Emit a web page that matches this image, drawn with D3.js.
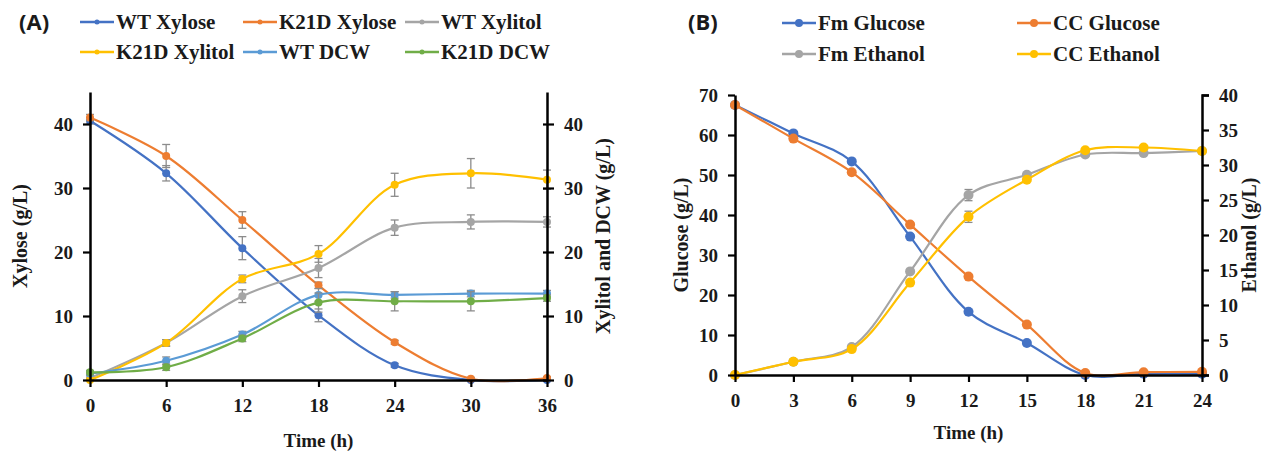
<!DOCTYPE html>
<html>
<head>
<meta charset="utf-8">
<script src="https://cdn.jsdelivr.net/npm/d3@7"></script>
<style>
  body { margin: 0; background: #fff; }
  svg text { font-family: "Liberation Serif", "Times New Roman", serif; font-weight: bold; fill: #1a1a1a; }
  .tag { font-family: "Open Sans", "Liberation Sans", sans-serif; }
</style>
</head>
<body>
<svg id="chart" width="1263" height="452"></svg>
<script>
// ---------- panel A data ----------
var timeA = [0, 6, 12, 18, 24, 30, 36];
var wtXylose = [40.5, 32.3, 20.6, 10.1, 2.3, 0.0, 0.0];
var k21dXylose = [41.0, 35.0, 25.0, 14.8, 5.9, 0.2, 0.3];
var wtXylitol = [0.3, 5.8, 13.1, 17.5, 23.8, 24.7, 24.7];
var k21dXylitol = [0.0, 5.8, 15.8, 19.7, 30.5, 32.3, 31.3];
var wtDcw = [1.0, 3.0, 7.1, 13.3, 13.3, 13.5, 13.5];
var k21dDcw = [1.2, 2.0, 6.5, 12.1, 12.3, 12.3, 12.8];
var wtXyloseErr = [0.5, 1.2, 1.8, 1.0, 0.3, 0, 0];
var k21dXyloseErr = [0.5, 1.8, 1.3, 0.5, 0.3, 0.2, 0.2];
var wtXylitolErr = [0, 0.5, 1.0, 1.5, 1.2, 1.1, 0.8];
var k21dXylitolErr = [0, 0.5, 0.6, 1.3, 1.8, 2.3, 1.5];
var wtDcwErr = [0.3, 0.6, 0.5, 1.0, 0.5, 0.5, 0.5];
var k21dDcwErr = [0.3, 0.5, 0.5, 1.5, 1.5, 1.5, 0.5];
var seriesA = ["WT Xylose", "K21D Xylose", "WT Xylitol", "K21D Xylitol", "WT DCW", "K21D DCW"];

// ---------- panel B data ----------
var timeB = [0, 3, 6, 9, 12, 15, 18, 21, 24];
var fmGlucose = [67.5, 60.4, 53.4, 34.6, 15.8, 8.0, 0.0, 0.3, 0.3];
var ccGlucose = [67.5, 59.1, 50.7, 37.6, 24.6, 12.6, 0.5, 0.7, 0.8];
var fmEthanol = [0.0, 1.9, 4.0, 14.8, 25.7, 28.6, 31.5, 31.7, 32.0];
var ccEthanol = [0.0, 1.9, 3.7, 13.2, 22.6, 27.9, 32.1, 32.5, 32.0];
var fmEthanolErr = [0, 0, 0, 0, 0.8, 0, 0, 0, 0];
var ccEthanolErr = [0, 0, 0, 0, 0.8, 0, 0, 0, 0];
var seriesB = ["Fm Glucose", "CC Glucose", "Fm Ethanol", "CC Ethanol"];

var colors = ["#4472C4", "#ED7D31", "#A5A5A5", "#FFC000", "#5B9BD5", "#70AD47"];

var svg = d3.select("#chart");

// build series objects (axis: 0 = left, 1 = right)
function makeSeries(names, time, values, errs, axes) {
  return names.map(function (n, i) {
    return {
      name: n, color: colors[i], axis: axes[i],
      points: time.map(function (t, j) { return { t: t, v: values[i][j], e: errs[i] ? errs[i][j] : 0 }; })
    };
  });
}

var dataA = makeSeries(seriesA, timeA,
  [wtXylose, k21dXylose, wtXylitol, k21dXylitol, wtDcw, k21dDcw],
  [wtXyloseErr, k21dXyloseErr, wtXylitolErr, k21dXylitolErr, wtDcwErr, k21dDcwErr],
  [0, 0, 1, 1, 1, 1]);
var dataB = makeSeries(seriesB, timeB,
  [fmGlucose, ccGlucose, fmEthanol, ccEthanol],
  [null, null, fmEthanolErr, ccEthanolErr],
  [0, 0, 1, 1]);

function drawPanel(cfg) {
  var g = svg.append("g");
  var x = d3.scaleLinear().domain(cfg.xDomain).range([cfg.left, cfg.right]);
  var yL = d3.scaleLinear().domain(cfg.yLDomain).range([cfg.bottom, cfg.top]);
  var yR = d3.scaleLinear().domain(cfg.yRDomain).range([cfg.bottom, cfg.top]);
  var ys = [yL, yR];

  // series lines, error bars, markers
  var line = d3.line().curve(d3.curveCatmullRom.alpha(0.5));
  cfg.data.forEach(function (s) {
    var y = ys[s.axis];
    var sg = g.append("g");
    sg.append("path")
      .attr("d", line(s.points.map(function (p) { return [x(p.t), y(p.v)]; })))
      .attr("fill", "none").attr("stroke", s.color).attr("stroke-width", 2.2);
    var eb = sg.selectAll(".err").data(s.points.filter(function (p) { return p.e > 0; }))
      .enter().append("g").attr("stroke", "#8c8c8c").attr("stroke-width", 1.3);
    eb.append("line")
      .attr("x1", function (p) { return x(p.t); }).attr("x2", function (p) { return x(p.t); })
      .attr("y1", function (p) { return y(p.v - p.e); }).attr("y2", function (p) { return y(p.v + p.e); });
    [-1, 1].forEach(function (sgn) {
      eb.append("line")
        .attr("x1", function (p) { return x(p.t) - 4; }).attr("x2", function (p) { return x(p.t) + 4; })
        .attr("y1", function (p) { return y(p.v + sgn * p.e); }).attr("y2", function (p) { return y(p.v + sgn * p.e); });
    });
    sg.selectAll("circle").data(s.points).enter().append("circle")
      .attr("cx", function (p) { return x(p.t); })
      .attr("cy", function (p) { return y(p.v); })
      .attr("r", cfg.markerR).attr("fill", s.color);
  });

  // axes
  function styleAxis(a) {
    a.select(".domain").attr("stroke", "#000").attr("stroke-width", 2.5);
    a.selectAll(".tick line").attr("stroke", "#000").attr("stroke-width", 2.2);
    a.selectAll("text").attr("font-size", 19).attr("fill", "#1a1a1a")
      .attr("font-family", "Liberation Serif").attr("font-weight", "bold");
  }
  var ax = g.append("g").attr("transform", "translate(0," + cfg.bottom + ")")
    .call(d3.axisBottom(x).tickValues(cfg.xTicks).tickSize(7).tickSizeOuter(0).tickPadding(12));
  styleAxis(ax);
  var al = g.append("g").attr("transform", "translate(" + cfg.left + ",0)")
    .call(d3.axisLeft(yL).tickValues(cfg.yLTicks).tickSize(7).tickSizeOuter(0).tickPadding(10));
  styleAxis(al);
  var ar = g.append("g").attr("transform", "translate(" + cfg.right + ",0)")
    .call(d3.axisRight(yR).tickValues(cfg.yRTicks).tickSize(7).tickSizeOuter(cfg.rightOuter).tickPadding(10));
  styleAxis(ar);
  if (cfg.crossRight) ar.selectAll(".tick line").attr("x1", -4);

  // axis titles
  g.append("text").attr("x", (cfg.left + cfg.right) / 2).attr("y", cfg.xTitleY)
    .attr("text-anchor", "middle").attr("font-size", 19).text("Time (h)");
  g.append("text").attr("transform", "translate(" + cfg.yLTitleX + "," + (cfg.top + cfg.bottom) / 2 + ") rotate(-90)")
    .attr("text-anchor", "middle").attr("font-size", 20).text(cfg.yLTitle);
  g.append("text").attr("transform", "translate(" + cfg.yRTitleX + "," + (cfg.top + cfg.bottom) / 2 + ") rotate(-90)")
    .attr("text-anchor", "middle").attr("font-size", 20).text(cfg.yRTitle);

  // panel tag
  g.append("text").attr("class", "tag").attr("x", cfg.tagX).attr("y", 30)
    .attr("font-size", 22).text(cfg.tag);

  // legend
  var lg = g.selectAll(".leg").data(cfg.data).enter().append("g")
    .attr("transform", function (d, i) {
      return "translate(" + cfg.legX[i % cfg.legCols] + "," + cfg.legY[Math.floor(i / cfg.legCols)] + ")";
    });
  lg.append("line").attr("x1", 0).attr("x2", 34).attr("y1", 0).attr("y2", 0)
    .attr("stroke", function (d) { return d.color; }).attr("stroke-width", 2.5);
  lg.append("circle").attr("cx", 17).attr("cy", 0).attr("r", cfg.legR)
    .attr("fill", function (d) { return d.color; });
  lg.append("text").attr("x", 36).attr("y", 7).attr("font-size", 21)
    .text(function (d) { return d.name; });
}

drawPanel({
  data: dataA, tag: "(A)", tagX: 19,
  left: 90, right: 547, top: 92, bottom: 380,
  xDomain: [0, 36], yLDomain: [0, 45], yRDomain: [0, 45],
  xTicks: timeA, yLTicks: [0, 10, 20, 30, 40], yRTicks: [0, 10, 20, 30, 40],
  rightOuter: 0, crossRight: true, markerR: 4,
  xTitleY: 447, yLTitleX: 27, yRTitleX: 610,
  yLTitle: "Xylose (g/L)", yRTitle: "Xylitol and DCW (g/L)",
  legCols: 3, legX: [80, 243, 405], legY: [22, 52], legR: 2.5
});

drawPanel({
  data: dataB, tag: "(B)", tagX: 688,
  left: 735, right: 1202, top: 95, bottom: 375,
  xDomain: [0, 24], yLDomain: [0, 70], yRDomain: [0, 40],
  xTicks: timeB, yLTicks: d3.range(0, 71, 10), yRTicks: d3.range(0, 41, 5),
  rightOuter: 7, crossRight: false, markerR: 5,
  xTitleY: 439, yLTitleX: 688, yRTitleX: 1256,
  yLTitle: "Glucose (g/L)", yRTitle: "Ethanol (g/L)",
  legCols: 2, legX: [782, 1017], legY: [23, 54], legR: 4
});
</script>
</body>
</html>
